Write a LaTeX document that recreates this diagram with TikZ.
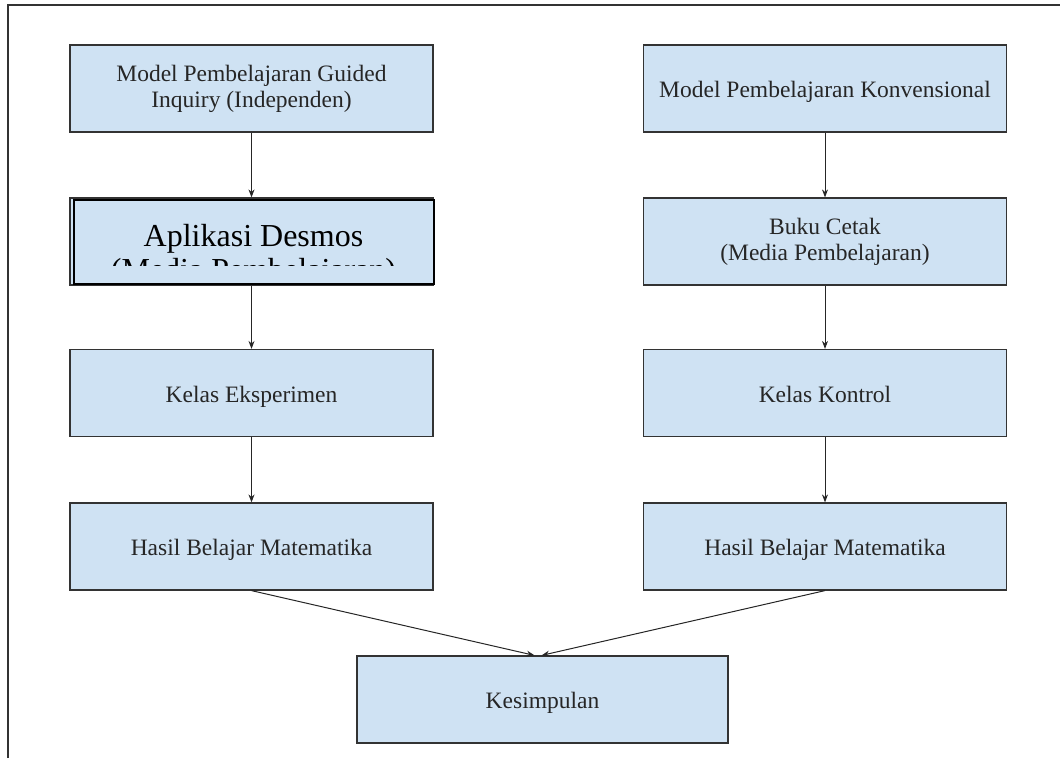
\documentclass[tikz,border=0pt]{standalone}
\usepackage{fontspec}
\setmainfont{Liberation Serif}
\usepackage{xcolor}
\usetikzlibrary{arrows.meta,calc}
\definecolor{boxfill}{HTML}{CFE2F3}
\definecolor{boxline}{HTML}{333333}
\definecolor{boxtext}{HTML}{262626}
\tikzset{
  flowbox/.style={draw=boxline, fill=boxfill, line width=1.2pt, minimum width=363pt,
    minimum height=87pt, inner sep=0pt, align=center, text=boxtext,
    font=\fontsize{23.5}{26}\selectfont},
  oneline/.style={text height=23pt, text depth=5pt},
  flowarrow/.style={draw=black!85, line width=1pt, -{Stealth[length=8pt,width=6pt]}}
}
\begin{document}
\begin{tikzpicture}[x=1pt,y=-1pt]
\useasboundingbox (0,0) rectangle (1060,758);
\draw [black!80, line width=1.5pt] (8,758) -- (8,5) -- (1060,5);
% left column
\node [flowbox] (guided) at (251.5,88.5) {Model Pembelajaran Guided\\Inquiry (Independen)};
\node [flowbox] (desmos) at (251.5,241.5) {};
\node [flowbox, oneline] (eksp) at (251.5,393) {Kelas Eksperimen};
\node [flowbox, oneline] (hasilA) at (251.5,546.5) {Hasil Belajar Matematika};
% right column
\node [flowbox, oneline] (konv) at (825,88.5) {Model Pembelajaran Konvensional};
\node [flowbox] (buku) at (825,241.5) {Buku Cetak\\(Media Pembelajaran)};
\node [flowbox, oneline] (kontrol) at (825,393) {Kelas Kontrol};
\node [flowbox, oneline] (hasilB) at (825,546.5) {Hasil Belajar Matematika};
\node [flowbox, oneline, minimum width=371pt] (kesimpulan) at (542.5,699.5) {Kesimpulan};
% pasted box over desmos
\node [flowbox, draw=black, line width=2pt, minimum width=360pt, minimum height=84pt] (desmosTop) at (253.5,242) {};
\begin{scope}
\clip ($(desmosTop.north west)+(2,2)$) rectangle (433,265);
\node [align=center, inner sep=0pt, text=black, font=\fontsize{32}{34}\selectfont] (desmosText) at (253.5,256) {Aplikasi Desmos\\(Media Pembelajaran)};
\end{scope}
\coordinate (kesL) at ($(kesimpulan.north)+(-8,0)$);
\coordinate (kesR) at ($(kesimpulan.north)+(-1,0)$);
\draw [flowarrow] (guided) -- (desmos);
\draw [flowarrow] (desmos) -- (eksp);
\draw [flowarrow] (eksp) -- (hasilA);
\draw [flowarrow] (konv) -- (buku);
\draw [flowarrow] (buku) -- (kontrol);
\draw [flowarrow] (kontrol) -- (hasilB);
\draw [flowarrow] (hasilA.south) -- (kesL);
\draw [flowarrow] (hasilB.south) -- (kesR);
\end{tikzpicture}
\end{document}
